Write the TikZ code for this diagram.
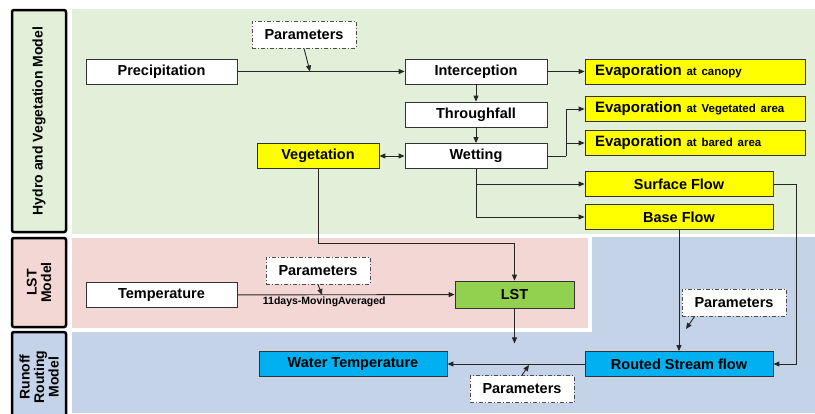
\documentclass[tikz,border=0pt]{standalone}
\usepackage{fontspec}
\setmainfont{Liberation Sans}
\usetikzlibrary{arrows.meta,positioning,calc}
\definecolor{hydbg}{RGB}{226,240,217}
\definecolor{lstbg}{RGB}{242,215,213}
\definecolor{runbg}{RGB}{197,211,232}
\definecolor{ybox}{RGB}{255,255,0}
\definecolor{gbox}{RGB}{146,208,80}
\definecolor{bbox}{RGB}{0,176,240}
\tikzset{
  box/.style={draw=black!80, line width=0.8pt, fill=white, font=\bfseries\fontsize{14.5}{17}\selectfont, minimum height=25pt, inner sep=2pt},
  ebox/.style={box, fill=ybox, minimum width=220pt, text width=200pt, align=left, inner xsep=10pt},
  pbox/.style={draw=black!70, line width=0.8pt, dash pattern=on 4pt off 2pt on 1pt off 2pt, fill=white, font=\bfseries\fontsize{14.5}{17}\selectfont, minimum width=104pt, minimum height=27pt},
  side/.style={draw=black, line width=2.5pt, rounded corners=2pt, rotate=90, align=center, font=\bfseries\fontsize{14}{14.5}\selectfont, minimum height=54pt},
  arr/.style={-{Triangle[length=6pt,width=5pt]}, line width=0.9pt, draw=black!85},
  darr/.style={{Triangle[length=6pt,width=5pt]}-{Triangle[length=6pt,width=5pt]}, line width=0.9pt, draw=black!85},
  lbl/.style={font=\bfseries\fontsize{10.5}{12}\selectfont, inner sep=2pt},
}
\newcommand{\evap}[1]{{\fontsize{15}{17}\selectfont Evaporation} {\fontsize{11.5}{13}\selectfont #1}}
\begin{document}
\begin{tikzpicture}[x=1pt,y=-1pt]
\useasboundingbox (0,0) rectangle (815,413);
% model regions
\fill[hydbg] (72,9) rectangle (815,234);
\fill[lstbg] (72,238) rectangle (588,328);
\fill[runbg] (72,332) -- (592,332) -- (592,237) -- (815,237) -- (815,413) -- (72,413) -- cycle;
\node[side, fill=hydbg, minimum width=222pt] (hyd) at (39,121) {Hydro and Vegetation Model};
\node[side, fill=lstbg, minimum width=89pt] (lstm) at (39,282.5) {LST\\Model};
\node[side, fill=runbg, minimum width=90pt] (runm) at (39,377) {Runoff\\Routing\\Model};
% hydro part
\node[box, minimum width=151pt] (prec) at (161.5,71.5) {Precipitation};
\node[pbox] (par1) at (304,34.5) {Parameters};
\node[box, minimum width=142pt] (inter) at (476,71.5) {Interception};
\node[box, minimum width=142pt] (thru) at (476,114.5) {Throughfall};
\node[box, minimum width=142pt] (wet) at (476,156) {Wetting};
\node[box, fill=ybox, minimum width=122pt] (veg) at (318,156) {Vegetation};
\node[ebox] (evc) at (695,71.5) {\evap{at canopy}};
\node[ebox] (evv) at (695,109) {\evap{at Vegetated area}};
\node[ebox] (evb) at (695,143) {\evap{at bared area}};
\node[box, fill=ybox, minimum width=188pt] (surf) at (679,184) {Surface Flow};
\node[box, fill=ybox, minimum width=188pt] (base) at (679,217) {Base Flow};
% LST part
\node[box, minimum width=151pt] (temp) at (161.5,295) {Temperature};
\node[pbox] (par2) at (318,270.5) {Parameters};
\node[box, fill=gbox, minimum width=119pt, minimum height=27pt] (lst) at (514.5,294.5) {LST};
% routing part
\node[box, fill=bbox, minimum width=188pt] (wt) at (353,364) {Water Temperature};
\node[box, fill=bbox, minimum width=188pt] (rsf) at (679,364) {Routed Stream flow};
\node[pbox] (par3) at (734,302.5) {Parameters};
\node[pbox] (par4) at (522,389) {Parameters};
\coordinate (p1tip) at (310,71.5);
\coordinate (p2tip) at (322,295);
\coordinate (p3tip) at (686,329);
\coordinate (p4tip) at (529,365);
\coordinate (wj) at ($(wet.east)+(19,0)$);
% connectors
\draw[arr] (prec) -- (inter);
\draw[arr] (par1.south) -- (p1tip);
\draw[arr] (inter) -- (evc);
\draw[arr] (inter) -- (thru);
\draw[arr] (thru) -- (wet);
\draw[line width=0.9pt, draw=black!85] (wet.east) -- (wj);
\draw[arr] (wj) |- (evv.west);
\draw[arr] (wj) |- (evb.west);
\draw[darr] (veg) -- (wet);
\draw[arr] (wet.south) |- (surf.west);
\draw[arr] (wet.south) |- (base.west);
\draw[arr] (surf.east) -- ++(23,0) |- (rsf.east);
\draw[arr] (base) -- (rsf);
\draw[arr] (veg.south) -- ++(0,75) -| (lst.north);
\draw[arr] (temp) -- node[lbl, below, pos=0.4] {11days-MovingAveraged} (lst);
\draw[arr] (par2.south) -- (p2tip);
\draw[arr] (lst.south) -- ++(0,35);
\draw[arr] ([xshift=13pt]par3.south west) -- (p3tip);
\draw[arr] (rsf) -- (wt);
\draw[arr] (par4.north) -- (p4tip);
\end{tikzpicture}
\end{document}
